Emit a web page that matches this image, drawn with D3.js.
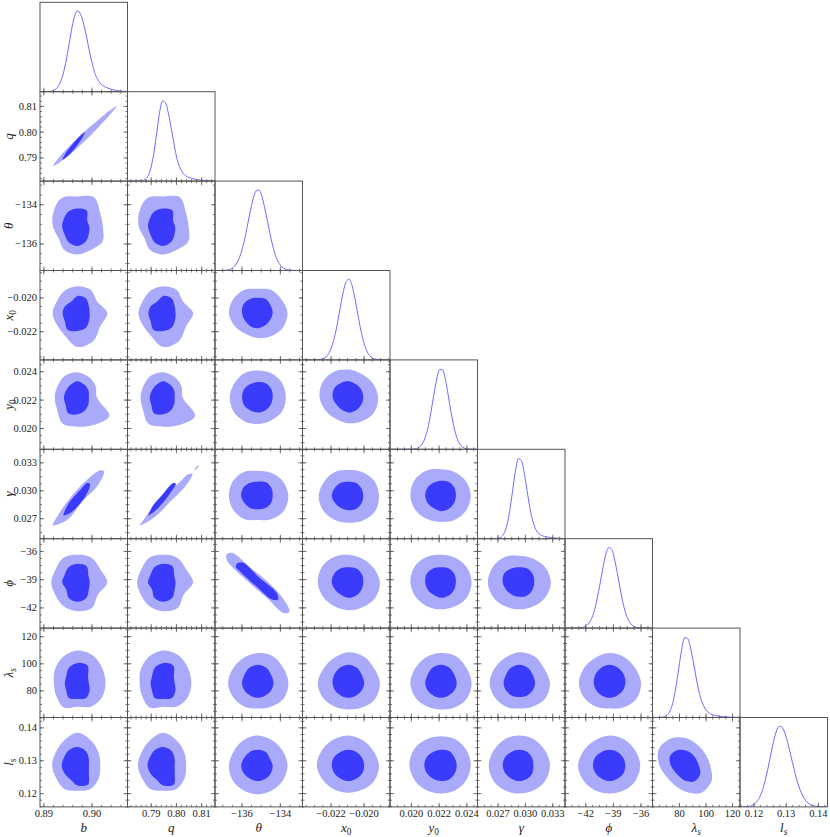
<!DOCTYPE html>
<html>
<head>
<meta charset="utf-8">
<script src="https://cdn.jsdelivr.net/npm/d3@7"></script>
<style>
body { margin: 0; background: #fff; }
svg text { font-family: "Liberation Serif", "DejaVu Serif", serif; }
</style>
</head>
<body>
<svg id="chart" width="830" height="837"></svg>
<script>
// parameters, in plotting order
const names = ["b", "q", "theta", "x0", "y0", "gamma", "phi", "lambda_s", "l_s"];
const titleMain = ["b", "q", "θ", "x", "y", "γ", "ϕ", "λ", "l"];
const titleSub = ["", "", "", "0", "0", "", "", "s", "s"];

// axis extents
const domains = [
    [0.8893, 0.9075],
    [0.7808, 0.8155],
    [-137.38, -132.82],
    [-0.0237, -0.0184],
    [0.0185, 0.0248],
    [0.0248, 0.0344],
    [-44.2, -34.7],
    [60, 126],
    [0.1158, 0.1430]
];

// posterior peaks (centre of the 2d regions)
const means = [0.8971, 0.7950, -135.15, -0.02092, 0.02217, 0.02939, -39.36, 85.1, 0.1283];

const majorTicks = [
    [0.89, 0.90],
    [0.79, 0.80, 0.81],
    [-136, -134],
    [-0.022, -0.020],
    [0.020, 0.022, 0.024],
    [0.027, 0.030, 0.033],
    [-42, -39, -36],
    [80, 100, 120],
    [0.12, 0.13, 0.14]
];
const tickLabels = [
    ["0.89", "0.90"],
    ["0.79", "0.80", "0.81"],
    ["−136", "−134"],
    ["−0.022", "−0.020"],
    ["0.020", "0.022", "0.024"],
    ["0.027", "0.030", "0.033"],
    ["−42", "−39", "−36"],
    ["80", "100", "120"],
    ["0.12", "0.13", "0.14"]
];
const minorStep = [0.002, 0.002, 0.5, 0.0005, 0.0005, 0.00075, 0.75, 5, 0.002];

// 1d marginals, sampled evenly across each axis extent
const dens_b = [0, 0.0002, 0.0007, 0.0024, 0.0075, 0.022, 0.053, 0.117, 0.229, 0.392, 0.594, 0.80, 0.951, 1.0, 0.95, 0.83, 0.67, 0.49, 0.335, 0.21, 0.14, 0.09, 0.065, 0.048, 0.035, 0.025, 0.017, 0.011, 0.007, 0.004, 0.002];
const dens_q = [0, 0, 0, 0.0002, 0.001, 0.005, 0.02, 0.062, 0.16, 0.34, 0.59, 0.85, 0.99, 0.97, 0.84, 0.65, 0.45, 0.27, 0.165, 0.10, 0.065, 0.046, 0.034, 0.025, 0.018, 0.013, 0.009, 0.006, 0.004, 0.002, 0.001];
const dens_theta = [0, 0.0002, 0.0006, 0.0019, 0.005, 0.013, 0.031, 0.065, 0.128, 0.225, 0.36, 0.535, 0.715, 0.875, 0.98, 0.996, 0.927, 0.78, 0.607, 0.43, 0.275, 0.162, 0.087, 0.042, 0.019, 0.0078, 0.0028, 0.001, 0.0003, 0, 0];
const dens_x0 = [0, 0, 0, 0.0001, 0.0005, 0.0016, 0.005, 0.014, 0.036, 0.08, 0.159, 0.287, 0.458, 0.657, 0.845, 0.97, 0.997, 0.916, 0.755, 0.558, 0.367, 0.216, 0.115, 0.054, 0.023, 0.0087, 0.003, 0.0009, 0.0002, 0, 0];
const dens_y0 = [0, 0, 0, 0, 0, 0, 0.0002, 0.0007, 0.0027, 0.0088, 0.025, 0.063, 0.138, 0.265, 0.45, 0.666, 0.863, 0.985, 0.983, 0.863, 0.659, 0.445, 0.265, 0.135, 0.062, 0.025, 0.0088, 0.0027, 0.0007, 0.0002, 0];
const dens_gamma = [0, 0, 0, 0, 0, 0.0002, 0.001, 0.0048, 0.019, 0.06, 0.154, 0.335, 0.583, 0.835, 0.99, 0.969, 0.819, 0.593, 0.374, 0.214, 0.114, 0.063, 0.039, 0.028, 0.02, 0.014, 0.01, 0.007, 0.004, 0.002, 0.001];
const dens_phi = [0, 0, 0, 0.0002, 0.0008, 0.0028, 0.008, 0.021, 0.052, 0.11, 0.209, 0.36, 0.546, 0.744, 0.912, 0.995, 0.974, 0.85, 0.667, 0.47, 0.292, 0.164, 0.083, 0.037, 0.015, 0.0055, 0.0017, 0.0005, 0.0001, 0, 0];
const dens_lambda = [0, 0.0001, 0.0005, 0.0022, 0.0085, 0.029, 0.08, 0.185, 0.368, 0.607, 0.84, 0.987, 0.98, 0.869, 0.685, 0.487, 0.31, 0.19, 0.114, 0.069, 0.044, 0.03, 0.022, 0.016, 0.011, 0.008, 0.005, 0.003, 0.002, 0.001, 0];
const dens_ls = [0.0003, 0.0009, 0.0026, 0.0068, 0.0164, 0.037, 0.075, 0.14, 0.243, 0.381, 0.548, 0.728, 0.88, 0.977, 0.997, 0.947, 0.843, 0.699, 0.546, 0.40, 0.272, 0.174, 0.105, 0.058, 0.031, 0.015, 0.007, 0.003, 0.0012, 0.0005, 0.0002];
const densities = [dens_b, dens_q, dens_theta, dens_x0, dens_y0, dens_gamma, dens_phi, dens_lambda, dens_ls];

// 2d regions: radius (fraction of panel) every 30 deg, counter-clockwise from +x
const outer_theta = [
    [0.29, 0.30, 0.38, 0.34, 0.37, 0.32, 0.28, 0.25, 0.30, 0.31, 0.30, 0.33],
    [0.29, 0.30, 0.38, 0.34, 0.37, 0.32, 0.28, 0.25, 0.30, 0.31, 0.30, 0.33]
];
const inner_theta = [
    [0.135, 0.13, 0.21, 0.205, 0.20, 0.18, 0.175, 0.17, 0.20, 0.215, 0.19, 0.15],
    [0.135, 0.13, 0.21, 0.205, 0.20, 0.18, 0.175, 0.17, 0.20, 0.215, 0.19, 0.15]
];
const outer_x0 = [
    [0.34, 0.26, 0.30, 0.30, 0.29, 0.27, 0.285, 0.27, 0.29, 0.38, 0.36, 0.30],
    [0.34, 0.26, 0.30, 0.30, 0.29, 0.27, 0.285, 0.27, 0.29, 0.38, 0.36, 0.30],
    [0.34, 0.31, 0.30, 0.27, 0.30, 0.32, 0.33, 0.30, 0.27, 0.28, 0.30, 0.33]
];
const inner_x0 = [
    [0.14, 0.15, 0.19, 0.19, 0.145, 0.16, 0.17, 0.17, 0.22, 0.20, 0.19, 0.155],
    [0.14, 0.15, 0.19, 0.19, 0.145, 0.16, 0.17, 0.17, 0.22, 0.20, 0.19, 0.155],
    [0.17, 0.17, 0.18, 0.17, 0.18, 0.19, 0.18, 0.17, 0.17, 0.17, 0.16, 0.16]
];
const outer_y0 = [
    [0.22, 0.24, 0.26, 0.28, 0.28, 0.26, 0.26, 0.27, 0.34, 0.33, 0.36, 0.42],
    [0.22, 0.24, 0.26, 0.28, 0.28, 0.26, 0.26, 0.27, 0.34, 0.33, 0.36, 0.42],
    [0.32, 0.32, 0.31, 0.30, 0.31, 0.31, 0.32, 0.32, 0.31, 0.30, 0.30, 0.32],
    [0.34, 0.32, 0.30, 0.31, 0.33, 0.34, 0.33, 0.30, 0.28, 0.29, 0.31, 0.34]
];
const inner_y0 = [
    [0.13, 0.145, 0.16, 0.18, 0.16, 0.15, 0.155, 0.16, 0.21, 0.19, 0.17, 0.145],
    [0.13, 0.145, 0.16, 0.18, 0.16, 0.15, 0.155, 0.16, 0.21, 0.19, 0.17, 0.145],
    [0.17, 0.18, 0.18, 0.17, 0.17, 0.18, 0.18, 0.18, 0.17, 0.17, 0.17, 0.17],
    [0.17, 0.17, 0.17, 0.18, 0.18, 0.19, 0.18, 0.16, 0.16, 0.17, 0.17, 0.17]
];
const outer_gamma = [
    null, null,
    [0.35, 0.33, 0.30, 0.28, 0.31, 0.33, 0.33, 0.32, 0.30, 0.27, 0.30, 0.34],
    [0.35, 0.34, 0.31, 0.29, 0.31, 0.32, 0.34, 0.33, 0.31, 0.30, 0.32, 0.35],
    [0.34, 0.33, 0.31, 0.30, 0.33, 0.35, 0.35, 0.33, 0.30, 0.29, 0.31, 0.33]
];
const inner_gamma = [
    null, null,
    [0.17, 0.18, 0.18, 0.16, 0.17, 0.19, 0.19, 0.17, 0.16, 0.15, 0.16, 0.17],
    [0.17, 0.17, 0.17, 0.16, 0.17, 0.18, 0.19, 0.17, 0.16, 0.16, 0.17, 0.17],
    [0.17, 0.18, 0.18, 0.17, 0.17, 0.18, 0.18, 0.17, 0.16, 0.17, 0.17, 0.17]
];
const outer_phi = [
    [0.34, 0.30, 0.32, 0.31, 0.32, 0.29, 0.30, 0.29, 0.31, 0.32, 0.33, 0.27],
    [0.34, 0.30, 0.32, 0.31, 0.32, 0.29, 0.30, 0.29, 0.31, 0.32, 0.33, 0.27],
    null,
    [0.36, 0.33, 0.31, 0.31, 0.33, 0.35, 0.35, 0.33, 0.31, 0.31, 0.32, 0.35],
    [0.35, 0.34, 0.32, 0.31, 0.33, 0.35, 0.35, 0.33, 0.31, 0.30, 0.31, 0.34],
    [0.36, 0.34, 0.31, 0.30, 0.33, 0.35, 0.36, 0.34, 0.31, 0.30, 0.31, 0.34]
];
const inner_phi = [
    [0.14, 0.145, 0.21, 0.21, 0.20, 0.17, 0.175, 0.15, 0.20, 0.215, 0.20, 0.15],
    [0.14, 0.145, 0.21, 0.21, 0.20, 0.17, 0.175, 0.15, 0.20, 0.215, 0.20, 0.15],
    null,
    [0.17, 0.18, 0.18, 0.17, 0.18, 0.19, 0.19, 0.17, 0.16, 0.17, 0.17, 0.17],
    [0.17, 0.18, 0.18, 0.17, 0.18, 0.19, 0.18, 0.17, 0.16, 0.17, 0.17, 0.17],
    [0.17, 0.18, 0.18, 0.17, 0.18, 0.20, 0.19, 0.17, 0.16, 0.16, 0.17, 0.17]
];
const outer_lambda = [
    [0.32, 0.33, 0.36, 0.37, 0.34, 0.30, 0.27, 0.28, 0.31, 0.26, 0.30, 0.32],
    [0.32, 0.33, 0.36, 0.37, 0.34, 0.30, 0.27, 0.28, 0.31, 0.26, 0.30, 0.32],
    [0.35, 0.34, 0.35, 0.34, 0.33, 0.33, 0.34, 0.32, 0.30, 0.28, 0.30, 0.34],
    [0.36, 0.34, 0.35, 0.35, 0.33, 0.33, 0.35, 0.33, 0.30, 0.29, 0.31, 0.35],
    [0.35, 0.34, 0.35, 0.34, 0.34, 0.34, 0.35, 0.33, 0.30, 0.29, 0.31, 0.34],
    [0.35, 0.33, 0.35, 0.35, 0.33, 0.33, 0.34, 0.32, 0.30, 0.28, 0.30, 0.34],
    [0.36, 0.34, 0.34, 0.34, 0.33, 0.34, 0.35, 0.33, 0.30, 0.28, 0.31, 0.35]
];
const inner_lambda = [
    [0.13, 0.14, 0.23, 0.23, 0.20, 0.15, 0.145, 0.15, 0.19, 0.17, 0.19, 0.16],
    [0.13, 0.14, 0.23, 0.23, 0.20, 0.15, 0.145, 0.15, 0.19, 0.17, 0.19, 0.16],
    [0.18, 0.18, 0.20, 0.21, 0.20, 0.18, 0.18, 0.17, 0.16, 0.16, 0.16, 0.17],
    [0.18, 0.18, 0.20, 0.21, 0.20, 0.19, 0.18, 0.17, 0.16, 0.16, 0.16, 0.17],
    [0.18, 0.18, 0.20, 0.21, 0.20, 0.18, 0.18, 0.17, 0.16, 0.16, 0.16, 0.17],
    [0.18, 0.18, 0.20, 0.21, 0.20, 0.18, 0.18, 0.17, 0.16, 0.15, 0.16, 0.17],
    [0.18, 0.19, 0.20, 0.21, 0.20, 0.19, 0.18, 0.17, 0.16, 0.16, 0.16, 0.17]
];
const outer_ls = [
    [0.26, 0.28, 0.32, 0.37, 0.32, 0.29, 0.29, 0.28, 0.30, 0.28, 0.30, 0.28],
    [0.26, 0.28, 0.32, 0.37, 0.32, 0.29, 0.29, 0.28, 0.30, 0.28, 0.30, 0.28],
    [0.34, 0.33, 0.33, 0.34, 0.33, 0.32, 0.33, 0.33, 0.32, 0.32, 0.32, 0.33],
    [0.35, 0.33, 0.33, 0.34, 0.34, 0.35, 0.36, 0.33, 0.31, 0.30, 0.31, 0.34],
    [0.34, 0.34, 0.34, 0.33, 0.34, 0.36, 0.36, 0.34, 0.32, 0.31, 0.32, 0.33],
    [0.35, 0.34, 0.34, 0.34, 0.34, 0.34, 0.35, 0.34, 0.32, 0.31, 0.32, 0.34],
    [0.35, 0.34, 0.34, 0.34, 0.33, 0.34, 0.36, 0.34, 0.32, 0.31, 0.32, 0.34],
    [0.28, 0.26, 0.27, 0.31, 0.35, 0.36, 0.30, 0.25, 0.25, 0.29, 0.35, 0.34]
];
const inner_ls = [
    [0.13, 0.15, 0.19, 0.21, 0.20, 0.18, 0.18, 0.17, 0.17, 0.22, 0.24, 0.15],
    [0.13, 0.15, 0.19, 0.21, 0.20, 0.18, 0.18, 0.17, 0.17, 0.22, 0.24, 0.15],
    [0.17, 0.16, 0.18, 0.18, 0.18, 0.18, 0.19, 0.18, 0.17, 0.17, 0.17, 0.17],
    [0.18, 0.18, 0.18, 0.18, 0.18, 0.19, 0.19, 0.18, 0.17, 0.17, 0.17, 0.18],
    [0.18, 0.18, 0.19, 0.18, 0.18, 0.19, 0.19, 0.18, 0.17, 0.17, 0.18, 0.18],
    [0.16, 0.17, 0.18, 0.18, 0.18, 0.19, 0.19, 0.18, 0.17, 0.17, 0.17, 0.17],
    [0.18, 0.18, 0.18, 0.18, 0.18, 0.19, 0.19, 0.18, 0.17, 0.17, 0.17, 0.18],
    [0.15, 0.14, 0.15, 0.17, 0.20, 0.21, 0.17, 0.14, 0.14, 0.17, 0.20, 0.19]
];
const outerRows = [null, null, outer_theta, outer_x0, outer_y0, outer_gamma, outer_phi, outer_lambda, outer_ls];
const innerRows = [null, null, inner_theta, inner_x0, inner_y0, inner_gamma, inner_phi, inner_lambda, inner_ls];

// strongly correlated pairs: outline vertices, fraction of panel from bottom-left
const qb_outer = [[0.152, 0.170], [0.281, 0.251], [0.433, 0.377], [0.578, 0.511], [0.715, 0.653], [0.816, 0.762], [0.876, 0.841], [0.792, 0.786], [0.675, 0.693], [0.522, 0.567], [0.377, 0.433], [0.241, 0.291]];
const qb_inner = [[0.259, 0.240], [0.326, 0.288], [0.407, 0.378], [0.477, 0.474], [0.514, 0.546], [0.449, 0.496], [0.367, 0.408], [0.294, 0.314]];
const gb_outer = [[0.145, 0.149], [0.305, 0.205], [0.495, 0.429], [0.648, 0.578], [0.724, 0.709], [0.731, 0.757], [0.686, 0.765], [0.533, 0.653], [0.419, 0.541], [0.267, 0.354], [0.171, 0.205]];
const gb_inner = [[0.267, 0.261], [0.362, 0.299], [0.514, 0.466], [0.571, 0.608], [0.541, 0.623], [0.457, 0.541], [0.324, 0.392], [0.274, 0.287]];
const gq_outer = [[0.141, 0.149], [0.312, 0.243], [0.484, 0.410], [0.655, 0.578], [0.731, 0.690], [0.743, 0.728], [0.693, 0.720], [0.598, 0.634], [0.446, 0.504], [0.293, 0.354], [0.179, 0.205]];
const gq_inner = [[0.236, 0.261], [0.331, 0.325], [0.484, 0.504], [0.552, 0.616], [0.522, 0.623], [0.408, 0.504], [0.293, 0.373], [0.244, 0.280]];
const gq_tail = [[0.765, 0.770], [0.805, 0.820], [0.815, 0.815], [0.780, 0.772]];
const pt_outer = [[0.13, 0.82], [0.20, 0.84], [0.40, 0.68], [0.60, 0.52], [0.80, 0.30], [0.85, 0.18], [0.78, 0.17], [0.60, 0.33], [0.40, 0.50], [0.20, 0.68], [0.14, 0.75]];
const pt_inner = [[0.25, 0.72], [0.32, 0.73], [0.50, 0.57], [0.70, 0.40], [0.72, 0.32], [0.65, 0.32], [0.48, 0.46], [0.30, 0.62], [0.24, 0.68]];
const shaped = [
    {row: 1, col: 0, outer: [qb_outer], inner: qb_inner},
    {row: 5, col: 0, outer: [gb_outer], inner: gb_inner},
    {row: 5, col: 1, outer: [gq_outer, gq_tail], inner: gq_inner},
    {row: 6, col: 2, outer: [pt_outer], inner: pt_inner}
];

const lightBlue = "#aaaafa", darkBlue = "#3b3bfb", lineBlue = "#6b6bff";
const gridLeft = 40, gridTop = 2.3, cw = 87.5, ch = 89.4, n = names.length;

const svg = d3.select("#chart");
const defs = svg.append("defs");

const xScales = domains.map((d, i) => d3.scaleLinear().domain(d).range([gridLeft + i * cw, gridLeft + (i + 1) * cw]));
const yScales = domains.map((d, j) => d3.scaleLinear().domain(d).range([gridTop + (j + 1) * ch, gridTop + j * ch]));

const span = d => d[1] - d[0];
const blobLine = d3.line().x(p => p[0]).y(p => p[1]).curve(d3.curveCatmullRomClosed.alpha(0.5));

function minorTicks(i) {
    const d = domains[i], s = minorStep[i];
    const start = Math.ceil(d[0] / s) * s;
    return d3.range(start, d[1], s);
}

function panelAxes(g, i, j, diag) {
    const xs = xScales[i];
    const yBot = gridTop + (j + 1) * ch, yTop = gridTop + j * ch;
    const xL = gridLeft + i * cw, xR = gridLeft + (i + 1) * cw;
    const fmtX = (j === n - 1) ? (v => tickLabels[i][majorTicks[i].indexOf(v)]) : "";
    const axes = [];

    axes.push(g.append("g").attr("transform", `translate(0,${yBot})`)
        .call(d3.axisBottom(xs).tickValues(minorTicks(i)).tickSize(-2).tickFormat("")));
    axes.push(g.append("g").attr("transform", `translate(0,${yBot})`)
        .call(d3.axisBottom(xs).tickValues(majorTicks[i]).tickSize(-4).tickPadding(3).tickFormat(fmtX)));

    if (!diag) {
        const ys = yScales[j];
        const fmtY = (i === 0) ? (v => tickLabels[j][majorTicks[j].indexOf(v)]) : "";
        axes.push(g.append("g").attr("transform", `translate(0,${yTop})`)
            .call(d3.axisTop(xs).tickValues(minorTicks(i)).tickSize(-2).tickFormat("")));
        axes.push(g.append("g").attr("transform", `translate(0,${yTop})`)
            .call(d3.axisTop(xs).tickValues(majorTicks[i]).tickSize(-4).tickFormat("")));
        axes.push(g.append("g").attr("transform", `translate(${xL},0)`)
            .call(d3.axisLeft(ys).tickValues(minorTicks(j)).tickSize(-2).tickFormat("")));
        axes.push(g.append("g").attr("transform", `translate(${xL},0)`)
            .call(d3.axisLeft(ys).tickValues(majorTicks[j]).tickSize(-4).tickPadding(3).tickFormat(fmtY)));
        axes.push(g.append("g").attr("transform", `translate(${xR},0)`)
            .call(d3.axisRight(ys).tickValues(minorTicks(j)).tickSize(-2).tickFormat("")));
        axes.push(g.append("g").attr("transform", `translate(${xR},0)`)
            .call(d3.axisRight(ys).tickValues(majorTicks[j]).tickSize(-4).tickFormat("")));
    }
    axes.forEach(a => {
        a.select(".domain").remove();
        a.selectAll("line").attr("stroke", "#555").attr("stroke-width", 0.8);
        a.selectAll("text").attr("font-family", "Liberation Serif, DejaVu Serif, serif")
            .attr("font-size", 10.5).attr("fill", "#222");
    });
}

for (let j = 0; j < n; j++) {
    for (let i = 0; i <= j; i++) {
        const g = svg.append("g");
        const xL = gridLeft + i * cw, yT = gridTop + j * ch;
        const clipId = `clip-${j}-${i}`;
        defs.append("clipPath").attr("id", clipId)
            .append("rect").attr("x", xL).attr("y", yT).attr("width", cw).attr("height", ch);
        const marks = g.append("g").attr("clip-path", `url(#${clipId})`);
        const xs = xScales[i];

        if (i === j) {
            const dens = densities[i];
            const yd = d3.scaleLinear().domain([0, 1.105]).range([yT + ch, yT]);
            const line = d3.line()
                .x((v, k) => xs(domains[i][0] + k / (dens.length - 1) * span(domains[i])))
                .y(v => yd(v))
                .curve(d3.curveMonotoneX);
            marks.append("path").datum(dens)
                .attr("d", line)
                .attr("fill", "none")
                .attr("stroke", lineBlue)
                .attr("stroke-width", 1);
        } else {
            const ys = yScales[j];
            const sp = shaped.find(s => s.row === j && s.col === i);
            let outerPts, innerPts;
            if (sp) {
                const toPx = f => [xs(domains[i][0] + f[0] * span(domains[i])), ys(domains[j][0] + f[1] * span(domains[j]))];
                outerPts = sp.outer.map(poly => poly.map(toPx));
                innerPts = sp.inner.map(toPx);
            } else {
                const toPx = (r, k) => {
                    const a = k * Math.PI / 6;
                    return [xs(means[i] + r * Math.cos(a) * span(domains[i])),
                            ys(means[j] + r * Math.sin(a) * span(domains[j]))];
                };
                outerPts = [outerRows[j][i].map(toPx)];
                innerPts = innerRows[j][i].map(toPx);
            }
            outerPts.forEach(pts => marks.append("path").attr("d", blobLine(pts)).attr("fill", lightBlue));
            marks.append("path").attr("d", blobLine(innerPts)).attr("fill", darkBlue);
        }

        panelAxes(g, i, j, i === j);

        g.append("rect")
            .attr("x", xL).attr("y", yT).attr("width", cw).attr("height", ch)
            .attr("fill", "none").attr("stroke", "#555").attr("stroke-width", 1);
    }
}

// axis titles
function addTitle(sel, i) {
    sel.append("tspan").attr("font-style", "italic").text(titleMain[i]);
    if (titleSub[i]) {
        sel.append("tspan")
            .attr("font-size", "0.72em")
            .attr("dy", "0.3em")
            .attr("font-style", titleSub[i] === "s" ? "italic" : "normal")
            .text(titleSub[i]);
    }
}
for (let i = 0; i < n; i++) {
    const t = svg.append("text")
        .attr("x", gridLeft + (i + 0.5) * cw)
        .attr("y", 832)
        .attr("text-anchor", "middle")
        .attr("font-size", 13)
        .attr("fill", "#222");
    addTitle(t, i);
}
for (let j = 1; j < n; j++) {
    const cy = gridTop + (j + 0.5) * ch;
    const t = svg.append("text")
        .attr("transform", `translate(13,${cy}) rotate(-90)`)
        .attr("text-anchor", "middle")
        .attr("font-size", 13)
        .attr("fill", "#222");
    addTitle(t, j);
}
</script>
</body>
</html>
